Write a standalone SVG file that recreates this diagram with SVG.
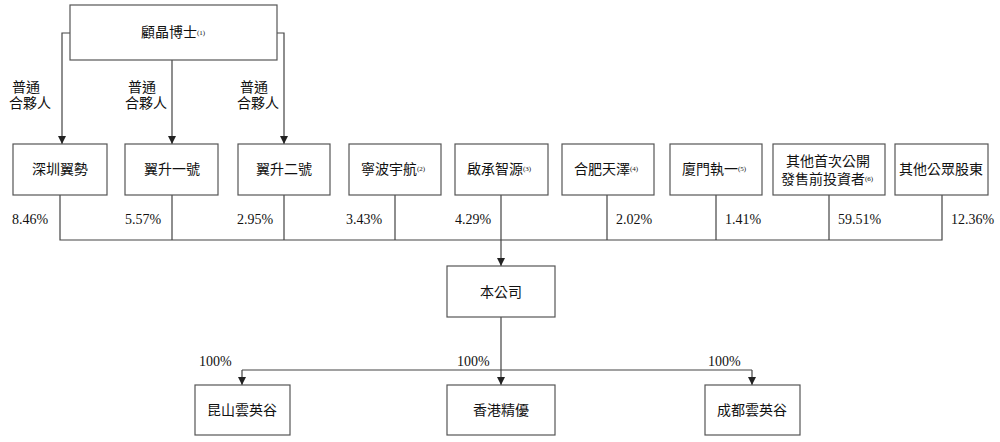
<svg xmlns="http://www.w3.org/2000/svg" width="1000" height="442" viewBox="0 0 1000 442">
<style>
rect{fill:#fff;stroke:#555;stroke-width:1.2}
text{font-family:"Liberation Serif","Noto Sans CJK TC",serif;font-size:14px;fill:#111;text-anchor:middle}
.p{text-anchor:start}
.s{font-size:7px}
#c path{fill:none;stroke:#444;stroke-width:1.2}
</style>
<defs><marker id="a" viewBox="0 0 10 10" refX="10" refY="5" markerWidth="7" markerHeight="7" orient="auto"><path d="M0,0L10,5L0,10z" fill="#222"/></marker></defs>
<g id="c">
<path d="M70,33H62V144" marker-end="url(#a)"/>
<path d="M172,60V144" marker-end="url(#a)"/>
<path d="M277,33H284V144" marker-end="url(#a)"/>
<path d="M60,195V240H942V195M172,195V240M284,195V240M395,195V240M607,195V240M716,195V240M829,195V240"/>
<path d="M501,195V266" marker-end="url(#a)"/>
<path d="M501,317V370"/>
<path d="M242,370H752"/>
<path d="M242,370V385" marker-end="url(#a)"/>
<path d="M501,370V385" marker-end="url(#a)"/>
<path d="M752,370V385" marker-end="url(#a)"/>
</g>
<g id="top"><rect x="70" y="5" width="207" height="55"/><text x="173" y="37">顧晶博士<tspan class="s" dy="-2">(1)</tspan></text></g>
<text x="26" y="92">普通</text><text x="30" y="108">合夥人</text>
<text x="142" y="92">普通</text><text x="146" y="108">合夥人</text>
<text x="254" y="92">普通</text><text x="258" y="108">合夥人</text>
<g id="n1"><rect x="13" y="144" width="94" height="51"/><text x="60" y="174">深圳翼勢</text></g>
<g id="n2"><rect x="125" y="144" width="93" height="51"/><text x="172" y="174">翼升一號</text></g>
<g id="n3"><rect x="238" y="144" width="92" height="51"/><text x="284" y="174">翼升二號</text></g>
<g id="n4"><rect x="349" y="144" width="92" height="51"/><text x="393" y="174">寧波宇航<tspan class="s" dy="-3">(2)</tspan></text></g>
<g id="n5"><rect x="455" y="144" width="93" height="51"/><text x="499" y="174">啟承智源<tspan class="s" dy="-3">(3)</tspan></text></g>
<g id="n6"><rect x="562" y="144" width="92" height="51"/><text x="606" y="174">合肥天澤<tspan class="s" dy="-3">(4)</tspan></text></g>
<g id="n7"><rect x="670" y="144" width="92" height="51"/><text x="714" y="174">廈門執一<tspan class="s" dy="-3">(5)</tspan></text></g>
<g id="n8"><rect x="773" y="144" width="112" height="51"/><text x="828" y="166">其他首次公開</text><text x="827" y="184">發售前投資者<tspan class="s" dy="-3">(6)</tspan></text></g>
<g id="n9"><rect x="895" y="144" width="93" height="51"/><text x="941" y="174">其他公眾股東</text></g>
<text class="p" x="12" y="224">8.46%</text><text class="p" x="125" y="224">5.57%</text>
<text class="p" x="237" y="224">2.95%</text><text class="p" x="346" y="224">3.43%</text>
<text class="p" x="455" y="224">4.29%</text><text class="p" x="616" y="224">2.02%</text>
<text class="p" x="725" y="224">1.41%</text><text class="p" x="838" y="224">59.51%</text>
<text class="p" x="951" y="224">12.36%</text>
<g id="co"><rect x="447" y="266" width="108" height="51"/><text x="501" y="297">本公司</text></g>
<text class="p" x="199" y="366">100%</text><text class="p" x="457" y="366">100%</text><text class="p" x="708" y="366">100%</text>
<g id="s1"><rect x="195" y="385" width="95" height="50"/><text x="242" y="415">昆山雲英谷</text></g>
<g id="s2"><rect x="447" y="385" width="108" height="50"/><text x="501" y="415">香港精優</text></g>
<g id="s3"><rect x="705" y="385" width="95" height="50"/><text x="752" y="415">成都雲英谷</text></g>
</svg>
